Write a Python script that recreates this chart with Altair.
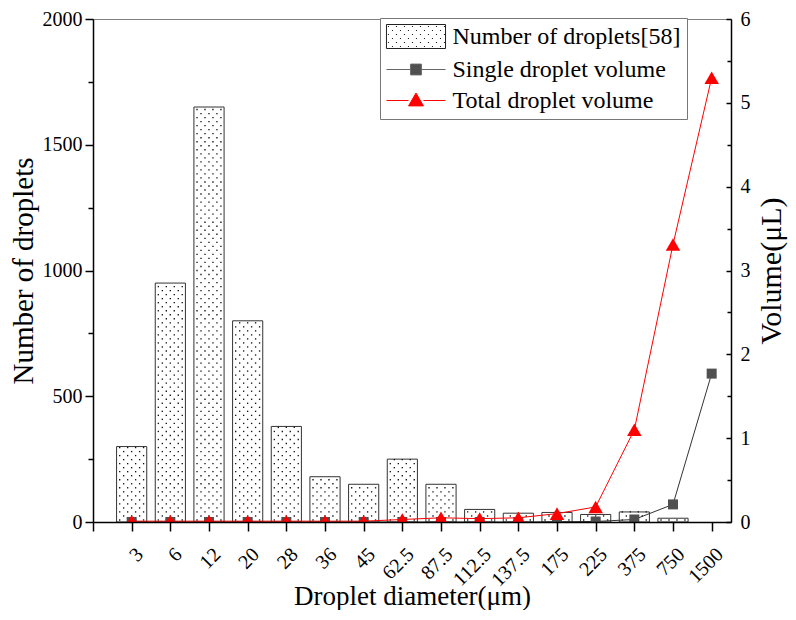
import json
import altair as alt
import pandas as pd

# ---------------- data ----------------
DIAMETERS = ["3", "6", "12", "20", "28", "36", "45", "62.5", "87.5",
             "112.5", "137.5", "175", "225", "375", "750", "1500"]
COUNTS = [300, 950, 1650, 800, 380, 180, 150, 250, 150, 50, 35, 38, 30, 40, 15, 0]
SINGLE_VOL = [0, 0, 0, 0, 0, 0, 0, 0, 0, 0, 0, 0.003, 0.006, 0.03, 0.21, 1.77]
TOTAL_VOL = [0.01, 0.01, 0.01, 0.01, 0.01, 0.01, 0.01, 0.03, 0.05, 0.04, 0.05,
             0.10, 0.18, 1.10, 3.31, 5.30]
LEGEND_LABELS = ["Number of droplets[58]", "Single droplet volume", "Total droplet volume"]
LEFT_TICKS = [0, 500, 1000, 1500, 2000]
LEFT_MINOR = [250, 750, 1250, 1750]
RIGHT_TICKS = [0, 1, 2, 3, 4, 5, 6]
RIGHT_MINOR = [0.5, 1.5, 2.5, 3.5, 4.5, 5.5]

FONT = "Liberation Serif"
W, H = 638, 503

df = pd.DataFrame({
    "d": DIAMETERS,
    "idx": list(range(1, len(DIAMETERS) + 1)),
    "count": COUNTS,
    "single": SINGLE_VOL,
    "total": TOTAL_VOL,
})

xscale = alt.Scale(domain=[0, len(DIAMETERS) + 0.5], nice=False, zero=False)
lscale = alt.Scale(domain=[0, 2000], nice=False)
rscale = alt.Scale(domain=[0, 6], nice=False)

label_expr = ("datum.value >= 1 ? " + json.dumps(DIAMETERS).replace('"', "'")
              + "[datum.value - 1] : ''")

x_axis = alt.Axis(
    orient="bottom", values=list(range(0, len(DIAMETERS) + 1)), labelExpr=label_expr,
    labelAngle=-45, labelAlign="right", labelBaseline="middle", labelOffset=8,
    labelPadding=20, labelOverlap=False, labelFlush=False, labelFontSize=20,
    tickSize=9, tickWidth=1.5, tickColor="black", domainColor="black", domainWidth=1.5,
    grid=False, title="Droplet diameter(μm)", titleFontSize=27, titleFontWeight="normal",
    titleBaseline="alphabetic", titleY=82, zindex=1,
)

left_axis = alt.Axis(
    orient="left", values=LEFT_TICKS, format="d", tickSize=8, tickWidth=1.5,
    tickColor="black", domainColor="black", domainWidth=1.5, labelFontSize=20,
    labelPadding=3, grid=False, title="Number of droplets", titleFontSize=29,
    titleFontWeight="normal", titleBaseline="middle", titleX=-70, zindex=1,
)
left_minor = alt.Axis(
    orient="left", values=LEFT_MINOR, tickSize=5, tickWidth=1.5, tickColor="black",
    labels=False, domain=False, grid=False, title=None,
)
right_axis = alt.Axis(
    orient="right", values=RIGHT_TICKS, format="d", ticks=False, domainColor="black",
    domainWidth=1.5, labelFontSize=20, labelPadding=9, grid=False, title="Volume(μL)",
    titleFontSize=30, titleFontWeight="normal", titleAngle=270, titleBaseline="middle",
    titleX=40, zindex=1,
)
right_major_in = alt.Axis(
    orient="left", offset=-W, values=RIGHT_TICKS, tickSize=5, tickWidth=1.5,
    tickColor="black", labels=False, domain=False, grid=False, title=None,
)
right_minor_in = alt.Axis(
    orient="left", offset=-W, values=RIGHT_MINOR, tickSize=4, tickWidth=1.5,
    tickColor="black", labels=False, domain=False, grid=False, title=None,
)

base = alt.Chart(df)
X = alt.X("idx:Q", scale=xscale, axis=x_axis)

bars = base.transform_filter("datum.count > 0").transform_calculate(
    x1="datum.idx - 0.39", x2="datum.idx + 0.39"
).mark_bar(fill="white", stroke="#333333", strokeWidth=1).encode(
    x=alt.X("x1:Q", scale=xscale, axis=x_axis),
    x2="x2:Q",
    y=alt.Y("count:Q", scale=lscale, axis=left_axis),
    y2=alt.datum(0),
)

# dotted fill texture inside each bar (checker of small dots)
dots = base.transform_filter("datum.count > 0").transform_calculate(
    rows="sequence(0, floor((datum.count - 8) / 16) + 1)"
).transform_flatten(["rows"], as_=["row"]).transform_calculate(
    cols="sequence(0, 7)"
).transform_flatten(["cols"], as_=["col"]).transform_filter(
    "(datum.row + datum.col) % 2 == 0"
).transform_calculate(
    dx="datum.idx - 0.31 + datum.col * 0.103",
    dy="8 + datum.row * 16",
).mark_square(size=1.8, color="#111111", opacity=1).encode(
    x=alt.X("dx:Q", scale=xscale, axis=x_axis),
    y=alt.Y("dy:Q", scale=lscale, axis=None),
)

lminor = base.mark_point(opacity=0).encode(
    x=X,
    y=alt.Y("count:Q", scale=lscale, axis=left_minor),
)

single_line = base.mark_line(color="#333333", strokeWidth=1, clip=True).encode(
    x=X,
    y=alt.Y("single:Q", scale=rscale, axis=right_axis),
)
single_pts = base.mark_point(shape="square", filled=True, color="#505050", size=100,
                             opacity=1, clip=True).encode(
    x=X,
    y=alt.Y("single:Q", scale=rscale, axis=None),
)
total_line = base.mark_line(color="#ff0000", strokeWidth=1, clip=True).encode(
    x=X,
    y=alt.Y("total:Q", scale=rscale, axis=right_major_in),
)
total_pts = base.mark_point(shape="triangle-up", filled=True, color="#ff0000", size=210,
                            opacity=1, clip=True).encode(
    x=X,
    y=alt.Y("total:Q", scale=rscale, axis=right_minor_in),
)

# legend swatch: outlined rectangle with a dotted texture (tiny stroked dashes)
swatch = "M-2.46,-1H2.46V1H-2.46Z"
for k in range(6):
    yy = -1 + (k + 0.5) / 3
    for j in range(15):
        if (j + k) % 2 == 0:
            xx = -2.46 + (j + 0.5) / 3
            swatch += "M%.3f,%.3fh0.09" % (xx - 0.045, yy)
SHAPES = [
    swatch,
    "M-2.46,0H-0.45M0.45,0H2.46M-0.45,-0.45H0.45V0.45H-0.45Z",
    "M-2.46,0H-0.62M0.62,0H2.46M0,-0.62L0.62,0.45H-0.62Z",
]
leg = alt.Legend(
    title=None, orient="none", legendX=287, legendY=-1, padding=6,
    strokeColor="#777777", fillColor="white", labelFont=FONT, labelFontSize=24,
    labelColor="black", labelLimit=0, symbolSize=576, symbolStrokeWidth=1,
    symbolOpacity=1, symbolOffset=17.5, rowPadding=6, labelOffset=24,
)
legend_df = pd.DataFrame({"series": LEGEND_LABELS})
legend_layer = alt.Chart(legend_df).mark_point(opacity=0, filled=True).encode(
    shape=alt.Shape("series:N", scale=alt.Scale(domain=LEGEND_LABELS, range=SHAPES), legend=leg),
    fill=alt.Fill("series:N", scale=alt.Scale(domain=LEGEND_LABELS,
                  range=["white", "#505050", "#ff0000"]), legend=leg),
    stroke=alt.Stroke("series:N", scale=alt.Scale(domain=LEGEND_LABELS,
                      range=["#222222", "#666666", "#ff0000"]), legend=leg),
)

chart = alt.layer(
    bars, dots, lminor, single_line, single_pts, total_line, total_pts, legend_layer
).resolve_scale(y="independent").properties(
    width=W, height=H,
    autosize=alt.AutoSizeParams(type="none"),
    padding={"left": 85, "top": 11, "right": 57, "bottom": 88},
).configure(font=FONT).configure_axis(
    labelFont=FONT, titleFont=FONT, labelColor="black", titleColor="black",
).configure_view(stroke="#808080", strokeWidth=1)

chart.save("out.html", embed_options={"renderer": "svg", "actions": False})
